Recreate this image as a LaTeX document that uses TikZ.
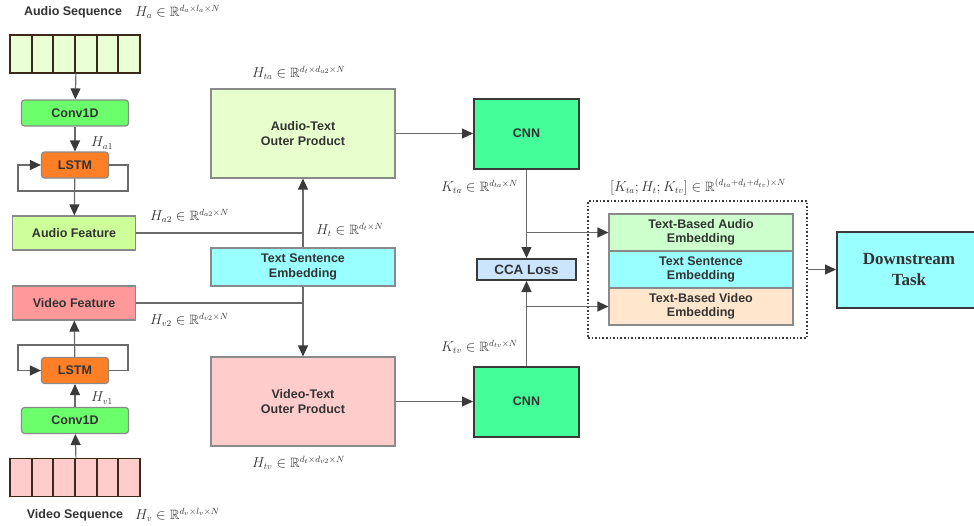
\documentclass[tikz,border=0pt]{standalone}
\usepackage{amssymb,amsmath}
\usepackage{fontspec}
\setsansfont{Liberation Sans}
\newfontfamily\taskfont{Liberation Serif}
\usetikzlibrary{arrows.meta,positioning}

\definecolor{txt}{HTML}{333333}
\definecolor{edge}{HTML}{8A8A8A}
\definecolor{wiregray}{HTML}{6A6A6A}
\definecolor{dark}{HTML}{3A3A3A}
\definecolor{seqbrown}{HTML}{3B2A1C}
\definecolor{aseqfill}{HTML}{EBFFD6}
\definecolor{vseqfill}{HTML}{FFCCCC}
\definecolor{convfill}{HTML}{6CFF6C}
\definecolor{lstmfill}{HTML}{FF7F27}
\definecolor{afill}{HTML}{CCFF99}
\definecolor{vfill}{HTML}{FF9999}
\definecolor{atfill}{HTML}{E6FFCC}
\definecolor{vtfill}{HTML}{FFCCCC}
\definecolor{cyanfill}{HTML}{99FFFF}
\definecolor{cnnfill}{HTML}{44FF99}
\definecolor{ccafill}{HTML}{CCE5FF}
\definecolor{tbafill}{HTML}{CCFFCC}
\definecolor{tbvfill}{HTML}{FFE6CC}

\tikzset{
  blk/.style={draw=edge, line width=1.2pt, text=txt, align=center, inner sep=0pt,
    font=\sffamily\bfseries\fontsize{12.5}{14.5}\selectfont},
  rblk/.style={blk, rounded corners=3pt},
  bold blk/.style={blk, draw=dark, line width=2pt},
  cell/.style={draw=seqbrown, line width=1.8pt, minimum width=21.67pt, minimum height=38pt, inner sep=0pt},
  arr/.style={draw=wiregray, line width=1.2pt, -{Triangle[length=11pt,width=10pt,color=dark]}},
  wire/.style={draw=wiregray, line width=1.2pt},
  lbl/.style={text=txt, inner sep=0pt, font=\fontsize{13.5}{15}\selectfont},
  title/.style={text=txt, inner sep=0pt, font=\sffamily\bfseries\fontsize{12.5}{14}\selectfont}
}

\begin{document}
\begin{tikzpicture}[x=1pt,y=-1pt]
\useasboundingbox (0,0) rectangle (974,525);

\foreach \i in {0,...,5}{
  \node[cell, fill=aseqfill] (a\i) at ({20.83+21.67*\i},54){};
  \node[cell, fill=vseqfill] (v\i) at ({20.83+21.67*\i},477.5){};
}
\node[title] (aseqt) at (73,12){Audio Sequence};
\node[lbl, anchor=west] (ha) at (135,12){$H_a \in \mathbb{R}^{d_a\times l_a\times N}$};
\node[title] (vseqt) at (75,515){Video Sequence};
\node[lbl, anchor=west] (hv) at (135,515){$H_v \in \mathbb{R}^{d_v\times l_v\times N}$};

\node[rblk, fill=convfill, minimum width=107pt, minimum height=26pt] (conva) at (75,113){Conv1D};
\node[rblk, fill=lstmfill, minimum width=67pt, minimum height=26pt] (lstma) at (75,165){LSTM};
\node[blk, fill=afill, minimum width=123pt, minimum height=34pt] (af) at (74,233){Audio Feature};
\node[blk, fill=vfill, minimum width=123pt, minimum height=34pt] (vf) at (74,303){Video Feature};
\node[rblk, fill=lstmfill, minimum width=67pt, minimum height=26pt] (lstmv) at (75,370.5){LSTM};
\node[rblk, fill=convfill, minimum width=107pt, minimum height=26pt] (convv) at (75,420.5){Conv1D};

\node[lbl, anchor=west] (ha1) at (91,143){$H_{a1}$};
\node[lbl, anchor=west] (hv1) at (91,398){$H_{v1}$};
\node[lbl, anchor=west] (ha2) at (150,216){$H_{a2} \in \mathbb{R}^{d_{a2}\times N}$};
\node[lbl, anchor=west] (hv2) at (150,320){$H_{v2} \in \mathbb{R}^{d_{v2}\times N}$};

\draw[arr] (a2.south east) -- (conva);
\draw[arr] (conva) -- (lstma);
\draw[arr] (lstma) -- (af);
\draw[arr] (lstma.east) -| (128,191) -| (18,165) -- (lstma.west);
\draw[arr] (v2.north east) -- (convv);
\draw[arr] (convv) -- (lstmv);
\draw[arr] (lstmv) -- (vf);
\draw[arr] (lstmv.east) -| (128,345) -| (18,370.5) -- (lstmv.west);

\node[blk, fill=atfill, minimum width=184pt, minimum height=89pt] (at) at (303,133.5){Audio-Text\\Outer Product};
\node[blk, fill=cyanfill, minimum width=184pt, minimum height=38pt] (ts) at (303,267){Text Sentence\\Embedding};
\node[blk, fill=vtfill, minimum width=184pt, minimum height=89pt] (vt) at (303,401.5){Video-Text\\Outer Product};

\node[lbl, anchor=west] (hta) at (252,73){$H_{ta} \in \mathbb{R}^{d_t\times d_{a2}\times N}$};
\node[lbl, anchor=west] (ht) at (316,230){$H_t \in \mathbb{R}^{d_t\times N}$};
\node[lbl, anchor=west] (htv) at (252,463){$H_{tv} \in \mathbb{R}^{d_t\times d_{v2}\times N}$};

\draw[arr] (ts.north) -- (at.south);
\draw[arr] (ts.south) -- (vt.north);
\draw[wire] (af.east) -- (ts.north |- af.east);
\draw[wire] (vf.east) -- (ts.south |- vf.east);

\node[bold blk, fill=cnnfill, minimum width=105pt, minimum height=70pt] (cnna) at (526.5,133.5){CNN};
\node[bold blk, fill=cnnfill, minimum width=105pt, minimum height=70pt] (cnnv) at (526.5,401.5){CNN};
\node[bold blk, fill=ccafill, minimum width=99pt, minimum height=21pt, font=\sffamily\bfseries\fontsize{13.5}{15}\selectfont] (cca) at (526.5,269.5){CCA Loss};

\node[lbl, anchor=west] (kta) at (441,187){$K_{ta} \in \mathbb{R}^{d_{ta}\times N}$};
\node[lbl, anchor=west] (ktv) at (441,347){$K_{tv} \in \mathbb{R}^{d_{tv}\times N}$};

\draw[arr] (at.east) -- (cnna.west);
\draw[arr] (vt.east) -- (cnnv.west);
\draw[arr] (cnna.south) -- (cca.north);
\draw[arr] (cnnv.north) -- (cca.south);

\node[draw=dark, line width=1.6pt, dotted, minimum width=219pt, minimum height=137pt, inner sep=0pt] (cat) at (697.5,269.5){};
\node[blk, fill=tbafill, minimum width=184pt, minimum height=37pt] (tba) at (701,232.5){Text-Based Audio\\Embedding};
\node[blk, fill=cyanfill, minimum width=184pt, minimum height=37pt] (tbs) at (701,269.5){Text Sentence\\Embedding};
\node[blk, fill=tbvfill, minimum width=184pt, minimum height=37pt] (tbv) at (701,306.5){Text-Based Video\\Embedding};
\node[lbl, anchor=west] (catl) at (610,187){$[K_{ta};H_t;K_{tv}] \in \mathbb{R}^{(d_{ta}+d_t+d_{tv})\times N}$};

\coordinate (ja) at (cnna.south |- tba.west);
\coordinate (jv) at (cnnv.north |- tbv.west);
\draw[arr] (ja) -- (tba.west);
\draw[arr] (jv) -- (tbv.west);

\node[bold blk, fill=cyanfill, minimum width=144pt, minimum height=76pt, font=\taskfont\bfseries\fontsize{17}{21}\selectfont] (ds) at (909,269.5){Downstream\\Task};
\draw[arr] (cat.east) -- (ds.west);

\end{tikzpicture}
\end{document}
